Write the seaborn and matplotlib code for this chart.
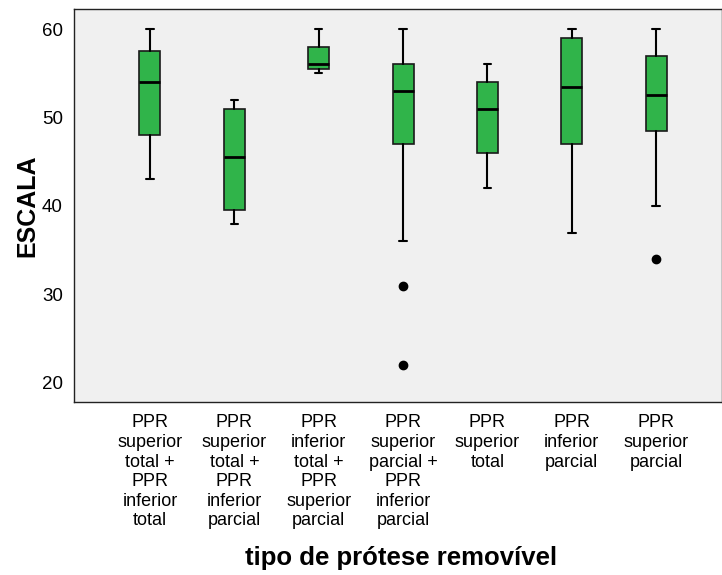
#!/usr/bin/env python3
"""Boxplot of ESCALA by tipo de prótese removível (SPSS style)."""

import matplotlib
matplotlib.use("Agg")
import matplotlib.pyplot as plt
import seaborn as sns

# categories (x tick labels)
categories = [
    "PPR\nsuperior\ntotal +\nPPR\ninferior\ntotal",
    "PPR\nsuperior\ntotal +\nPPR\ninferior\nparcial",
    "PPR\ninferior\ntotal +\nPPR\nsuperior\nparcial",
    "PPR\nsuperior\nparcial +\nPPR\ninferior\nparcial",
    "PPR\nsuperior\ntotal",
    "PPR\ninferior\nparcial",
    "PPR\nsuperior\nparcial",
]

# box summary values
whisker_low = [43, 38, 55, 36, 42, 37, 40]
q1 = [48, 39.5, 55.5, 47, 46, 47, 48.5]
median = [54, 45.5, 56, 53, 51, 53.5, 52.5]
q3 = [57.5, 51, 58, 56, 54, 59, 57]
whisker_high = [60, 52, 60, 60, 56, 60, 60]
outliers = [[], [], [], [31, 22], [], [], [34]]

yticks = [20, 30, 40, 50, 60]


def main():
    sns.set_theme(style="white", rc={"axes.facecolor": "#f0f0f0",
                                     "text.color": "black",
                                     "axes.labelcolor": "black",
                                     "xtick.color": "black",
                                     "ytick.color": "black"})
    plt.rcParams["font.family"] = ["Liberation Sans", "DejaVu Sans"]

    fig = plt.figure(figsize=(7.22, 5.75), dpi=100)
    ax = fig.add_axes([0.1025, 0.3009, 0.8975, 0.6834])

    stats = []
    for i in range(len(categories)):
        stats.append({
            "whislo": whisker_low[i], "q1": q1[i], "med": median[i],
            "q3": q3[i], "whishi": whisker_high[i], "fliers": outliers[i],
        })

    ax.bxp(stats, positions=range(len(categories)), widths=0.25,
           capwidths=0.09, patch_artist=True, showfliers=True,
           boxprops=dict(facecolor="#30b44a", edgecolor="#1a1a1a", linewidth=1.2),
           medianprops=dict(color="black", linewidth=2),
           whiskerprops=dict(color="black", linewidth=1.5),
           capprops=dict(color="black", linewidth=1.5),
           flierprops=dict(marker="o", markerfacecolor="black",
                           markeredgecolor="black", markersize=6))

    ax.set_xlim(-0.9, 6.78)
    ax.set_ylim(17.85, 62.26)
    ax.set_yticks(yticks)
    ax.set_yticklabels([str(v) for v in yticks], fontsize=13.5)
    ax.set_xticks(range(len(categories)))
    ax.set_xticklabels(categories, fontsize=13, linespacing=1.2)
    ax.tick_params(axis="y", direction="out", length=7, width=1, pad=1)
    ax.tick_params(axis="x", direction="out", length=5, width=1, pad=4)

    for sp in ax.spines.values():
        sp.set_color("#222222")
        sp.set_linewidth(1)

    ax.set_ylabel("ESCALA", fontsize=18, fontweight="bold", labelpad=2)
    ax.set_xlabel("tipo de prótese removível", fontsize=18.5, fontweight="bold")
    ax.xaxis.set_label_coords(0.505, -0.397)
    ax.xaxis.label.set_va("center")

    fig.savefig("out.png", dpi=100)
    plt.close(fig)


if __name__ == "__main__":
    main()
